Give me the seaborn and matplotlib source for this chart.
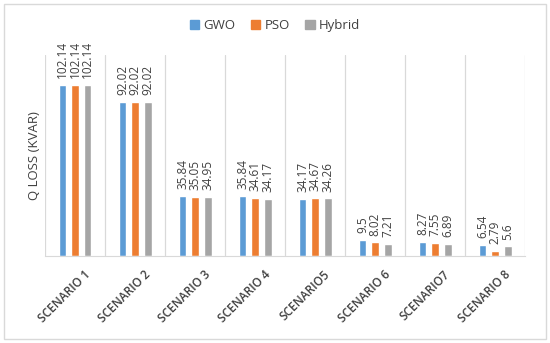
import matplotlib
matplotlib.use('Agg')
import matplotlib.pyplot as plt
import matplotlib.transforms as mtransforms
import pandas as pd
import seaborn as sns

scenarios = ['SCENARIO 1', 'SCENARIO 2', 'SCENARIO 3', 'SCENARIO 4',
             'SCENARIO5', 'SCENARIO 6', 'SCENARIO7', 'SCENARIO 8']
methods = ['GWO', 'PSO', 'Hybrid']
gwo = [102.14, 92.02, 35.84, 35.84, 34.17, 9.5, 8.27, 6.54]
pso = [102.14, 92.02, 35.05, 34.61, 34.67, 8.02, 7.55, 2.79]
hybrid = [102.14, 92.02, 34.95, 34.17, 34.26, 7.21, 6.89, 5.6]
label_text = {
    'GWO': ['102.14', '92.02', '35.84', '35.84', '34.17', '9.5', '8.27', '6.54'],
    'PSO': ['102.14', '92.02', '35.05', '34.61', '34.67', '8.02', '7.55', '2.79'],
    'Hybrid': ['102.14', '92.02', '34.95', '34.17', '34.26', '7.21', '6.89', '5.6'],
}
colors = ['#5B9BD5', '#ED7D31', '#A5A5A5']

df = pd.DataFrame({
    'Scenario': scenarios * 3,
    'Method': ['GWO'] * 8 + ['PSO'] * 8 + ['Hybrid'] * 8,
    'Q': gwo + pso + hybrid,
})

sns.set_style('white')
plt.rcParams['font.family'] = ['Open Sans', 'DejaVu Sans']

fig = plt.figure(figsize=(5.5, 3.43), dpi=100)
ax = fig.add_axes([0.082, 0.254, 0.873, 0.586])

sns.barplot(data=df, x='Scenario', y='Q', hue='Method', order=scenarios,
            hue_order=methods, palette=colors, width=0.63, gap=0.4,
            saturation=1, legend=False, ax=ax)

for cont, m in zip(ax.containers, methods):
    ax.bar_label(cont, labels=label_text[m], rotation=90, padding=5,
                 fontsize=8.5, color='#404040')

for x in range(len(scenarios) + 1):
    ax.axvline(x - 0.5, color='#D9D9D9', linewidth=0.9, zorder=0)

ax.set_xlim(-0.5, len(scenarios) - 0.5)
ax.set_ylim(0, 120)
ax.set_yticks([])
ax.set_xlabel('')
ax.set_ylabel('Q LOSS (KVAR)', fontsize=9.5, color='#404040', labelpad=3)
for s in ['top', 'right', 'left']:
    ax.spines[s].set_visible(False)
ax.spines['bottom'].set_color('#D9D9D9')
ax.tick_params(axis='x', length=0, pad=9)
ax.set_xticks(range(len(scenarios)))
ax.set_xticklabels(scenarios, rotation=45, ha='right', rotation_mode='anchor',
                   fontsize=8.5, fontweight='semibold', color='#404040')
shift = mtransforms.ScaledTranslation(6 / 72, 0, fig.dpi_scale_trans)
for lbl in ax.get_xticklabels():
    lbl.set_transform(lbl.get_transform() + shift)

handles = [plt.Rectangle((0, 0), 1, 1, color=c) for c in colors]
fig.legend(handles, methods, loc='center', bbox_to_anchor=(0.5, 0.925), ncol=3,
           frameon=False, fontsize=9.5, handlelength=0.7, handleheight=0.7,
           handletextpad=0.3, columnspacing=1.2, labelcolor='#404040')

fig.patches.append(plt.Rectangle((0.008, 0.012), 0.984, 0.975, transform=fig.transFigure,
                                 fill=False, edgecolor='#D9D9D9', linewidth=1))

fig.savefig('out.png', dpi=100)
